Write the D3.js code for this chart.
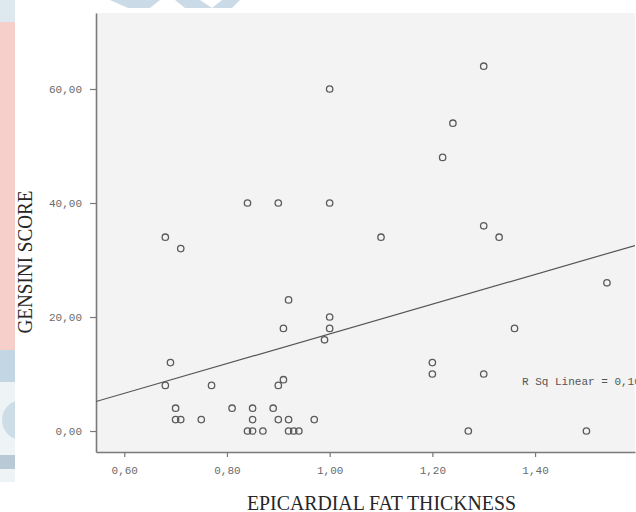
<!doctype html>
<html lang="en">
<head>
  <meta charset="utf-8">
  <title>Gensini score vs epicardial fat thickness</title>
  <script src="https://cdn.jsdelivr.net/npm/d3@7"></script>
  <style>
    html, body { margin: 0; padding: 0; background: #fff; }
    svg { display: block; }
  </style>
</head>
<body>
  <div id="container"></div>
<script>
  // Data (x = epicardial fat thickness, y = Gensini score).
  const fatThickness = [
    0.68, 0.77, 0.90, 0.91, 0.70, 0.81, 0.85, 0.89,
    0.70, 0.71, 0.75, 0.85, 0.90, 0.92, 0.97,
    0.84, 0.85, 0.87, 0.92, 0.93, 0.94,
    0.84, 0.90, 1.00, 0.68, 0.71,
    0.92, 1.00, 0.91, 1.00, 0.99, 0.69,
    1.00, 1.30, 1.24, 1.22, 1.10, 1.30, 1.33,
    1.54, 1.36, 1.20, 1.20, 1.30, 1.27, 1.50
  ];
  const gensiniScore = [
    8, 8, 8, 9, 4, 4, 4, 4,
    2, 2, 2, 2, 2, 2, 2,
    0, 0, 0, 0, 0, 0,
    40, 40, 40, 34, 32,
    23, 20, 18, 18, 16, 12,
    60, 64, 54, 48, 34, 36, 34,
    26, 18, 12, 10, 10, 0, 0
  ];
  const xTicks = [0.6, 0.8, 1.0, 1.2, 1.4];
  const yTicks = [0, 20, 40, 60];

  const width = 636, height = 512;
  const plot = { left: 96, right: 635, top: 13, bottom: 452 };

  const svg = d3.select('#container')
    .append('svg')
    .attr('width', width)
    .attr('height', height);

  // faded watermark from the scanned page
  const wm = svg.append('g').attr('class', 'watermark');
  wm.append('rect').attr('x', 0).attr('y', 0).attr('width', 15).attr('height', 22).attr('fill', '#dde8ef');
  wm.append('path')
    .attr('d', 'M0,22 L15,22 L15,350 Q8,352 0,356 Z')
    .attr('fill', '#f6cfcb');
  wm.append('rect').attr('x', 0).attr('y', 350).attr('width', 15).attr('height', 32).attr('fill', '#c3d6e3');
  wm.append('rect').attr('x', 0).attr('y', 382).attr('width', 15).attr('height', 100).attr('fill', '#eef3f6');
  wm.append('circle').attr('cx', 22).attr('cy', 420).attr('r', 20).attr('fill', '#cddde8');
  wm.append('rect').attr('x', 0).attr('y', 455).attr('width', 15).attr('height', 14).attr('fill', '#b9cad6');
  wm.append('path')
    .attr('d', 'M110,0 L160,0 L150,8 L128,8 Z M175,0 L240,0 L232,8 L185,8 Z M200,0 L212,8 L222,0 Z')
    .attr('fill', '#cadbe7');
  // white page under the chart
  svg.append('rect')
    .attr('x', 15).attr('y', 9).attr('width', width - 15).attr('height', height - 9)
    .attr('fill', '#fff');

  const x = d3.scaleLinear().domain([0.545, 1.5946]).range([plot.left, plot.right]);
  const y = d3.scaleLinear().domain([-3.68, 73.33]).range([plot.bottom, plot.top]);

  svg.append('defs').append('clipPath').attr('id', 'clip')
    .append('rect')
    .attr('x', plot.left).attr('y', plot.top)
    .attr('width', plot.right - plot.left).attr('height', plot.bottom - plot.top);

  // panel background
  svg.append('rect')
    .attr('x', plot.left).attr('y', plot.top)
    .attr('width', plot.right - plot.left).attr('height', plot.bottom - plot.top)
    .attr('fill', '#f3f3f3');

  const fmt = d => d3.format('.2f')(d).replace('.', ',');

  const xAxis = svg.append('g')
    .attr('transform', `translate(0,${plot.bottom})`)
    .call(d3.axisBottom(x).tickValues(xTicks).tickFormat(fmt).tickSize(5).tickSizeOuter(0).tickPadding(9));
  const yAxis = svg.append('g')
    .attr('transform', `translate(${plot.left},0)`)
    .call(d3.axisLeft(y).tickValues(yTicks).tickFormat(fmt).tickSize(6).tickSizeOuter(0).tickPadding(8));

  [xAxis, yAxis].forEach(g => {
    g.select('.domain').attr('stroke', '#7a7a7a').attr('stroke-width', 1.6);
    g.selectAll('.tick line').attr('stroke', '#7a7a7a').attr('stroke-width', 1.2);
    g.selectAll('.tick text')
      .attr('fill', '#6a6a6a')
      .style('font-family', '"Liberation Mono", "Courier New", monospace')
      .style('font-size', '11px');
  });

  // least squares fit line
  const n = fatThickness.length;
  const mx = d3.mean(fatThickness), my = d3.mean(gensiniScore);
  let sxy = 0, sxx = 0, syy = 0;
  for (let i = 0; i < n; i++) {
    sxy += (fatThickness[i] - mx) * (gensiniScore[i] - my);
    sxx += (fatThickness[i] - mx) ** 2;
    syy += (gensiniScore[i] - my) ** 2;
  }
  const slope = sxy / sxx, intercept = my - slope * mx;
  const r2 = sxy * sxy / (sxx * syy);
  const xd = x.domain();

  svg.append('line')
    .attr('clip-path', 'url(#clip)')
    .attr('x1', x(xd[0])).attr('y1', y(intercept + slope * xd[0]))
    .attr('x2', x(xd[1])).attr('y2', y(intercept + slope * xd[1]))
    .attr('stroke', '#555')
    .attr('stroke-width', 1.2);

  svg.append('g')
    .selectAll('circle')
    .data(fatThickness)
    .enter()
    .append('circle')
    .attr('cx', d => x(d))
    .attr('cy', (d, i) => y(gensiniScore[i]))
    .attr('r', 3.2)
    .attr('fill', 'none')
    .attr('stroke', '#5a5a5a')
    .attr('stroke-width', 1.3);

  svg.append('text')
    .attr('x', 522).attr('y', 385)
    .attr('fill', '#555')
    .style('font-family', '"Liberation Mono", "Courier New", monospace')
    .style('font-size', '11px')
    .text('R Sq Linear = ' + d3.format('.3f')(r2).replace('.', ','));

  svg.append('text')
    .attr('transform', 'translate(32,262) rotate(-90)')
    .attr('text-anchor', 'middle')
    .attr('fill', '#262626')
    .attr('textLength', 143)
    .attr('lengthAdjust', 'spacingAndGlyphs')
    .style('font-family', '"Liberation Serif", "Times New Roman", serif')
    .style('font-size', '20px')
    .text('GENSINI SCORE');

  svg.append('text')
    .attr('x', 381.5).attr('y', 510)
    .attr('text-anchor', 'middle')
    .attr('fill', '#262626')
    .attr('textLength', 269)
    .attr('lengthAdjust', 'spacingAndGlyphs')
    .style('font-family', '"Liberation Serif", "Times New Roman", serif')
    .style('font-size', '20px')
    .text('EPICARDIAL FAT THICKNESS');
</script>
</body>
</html>
